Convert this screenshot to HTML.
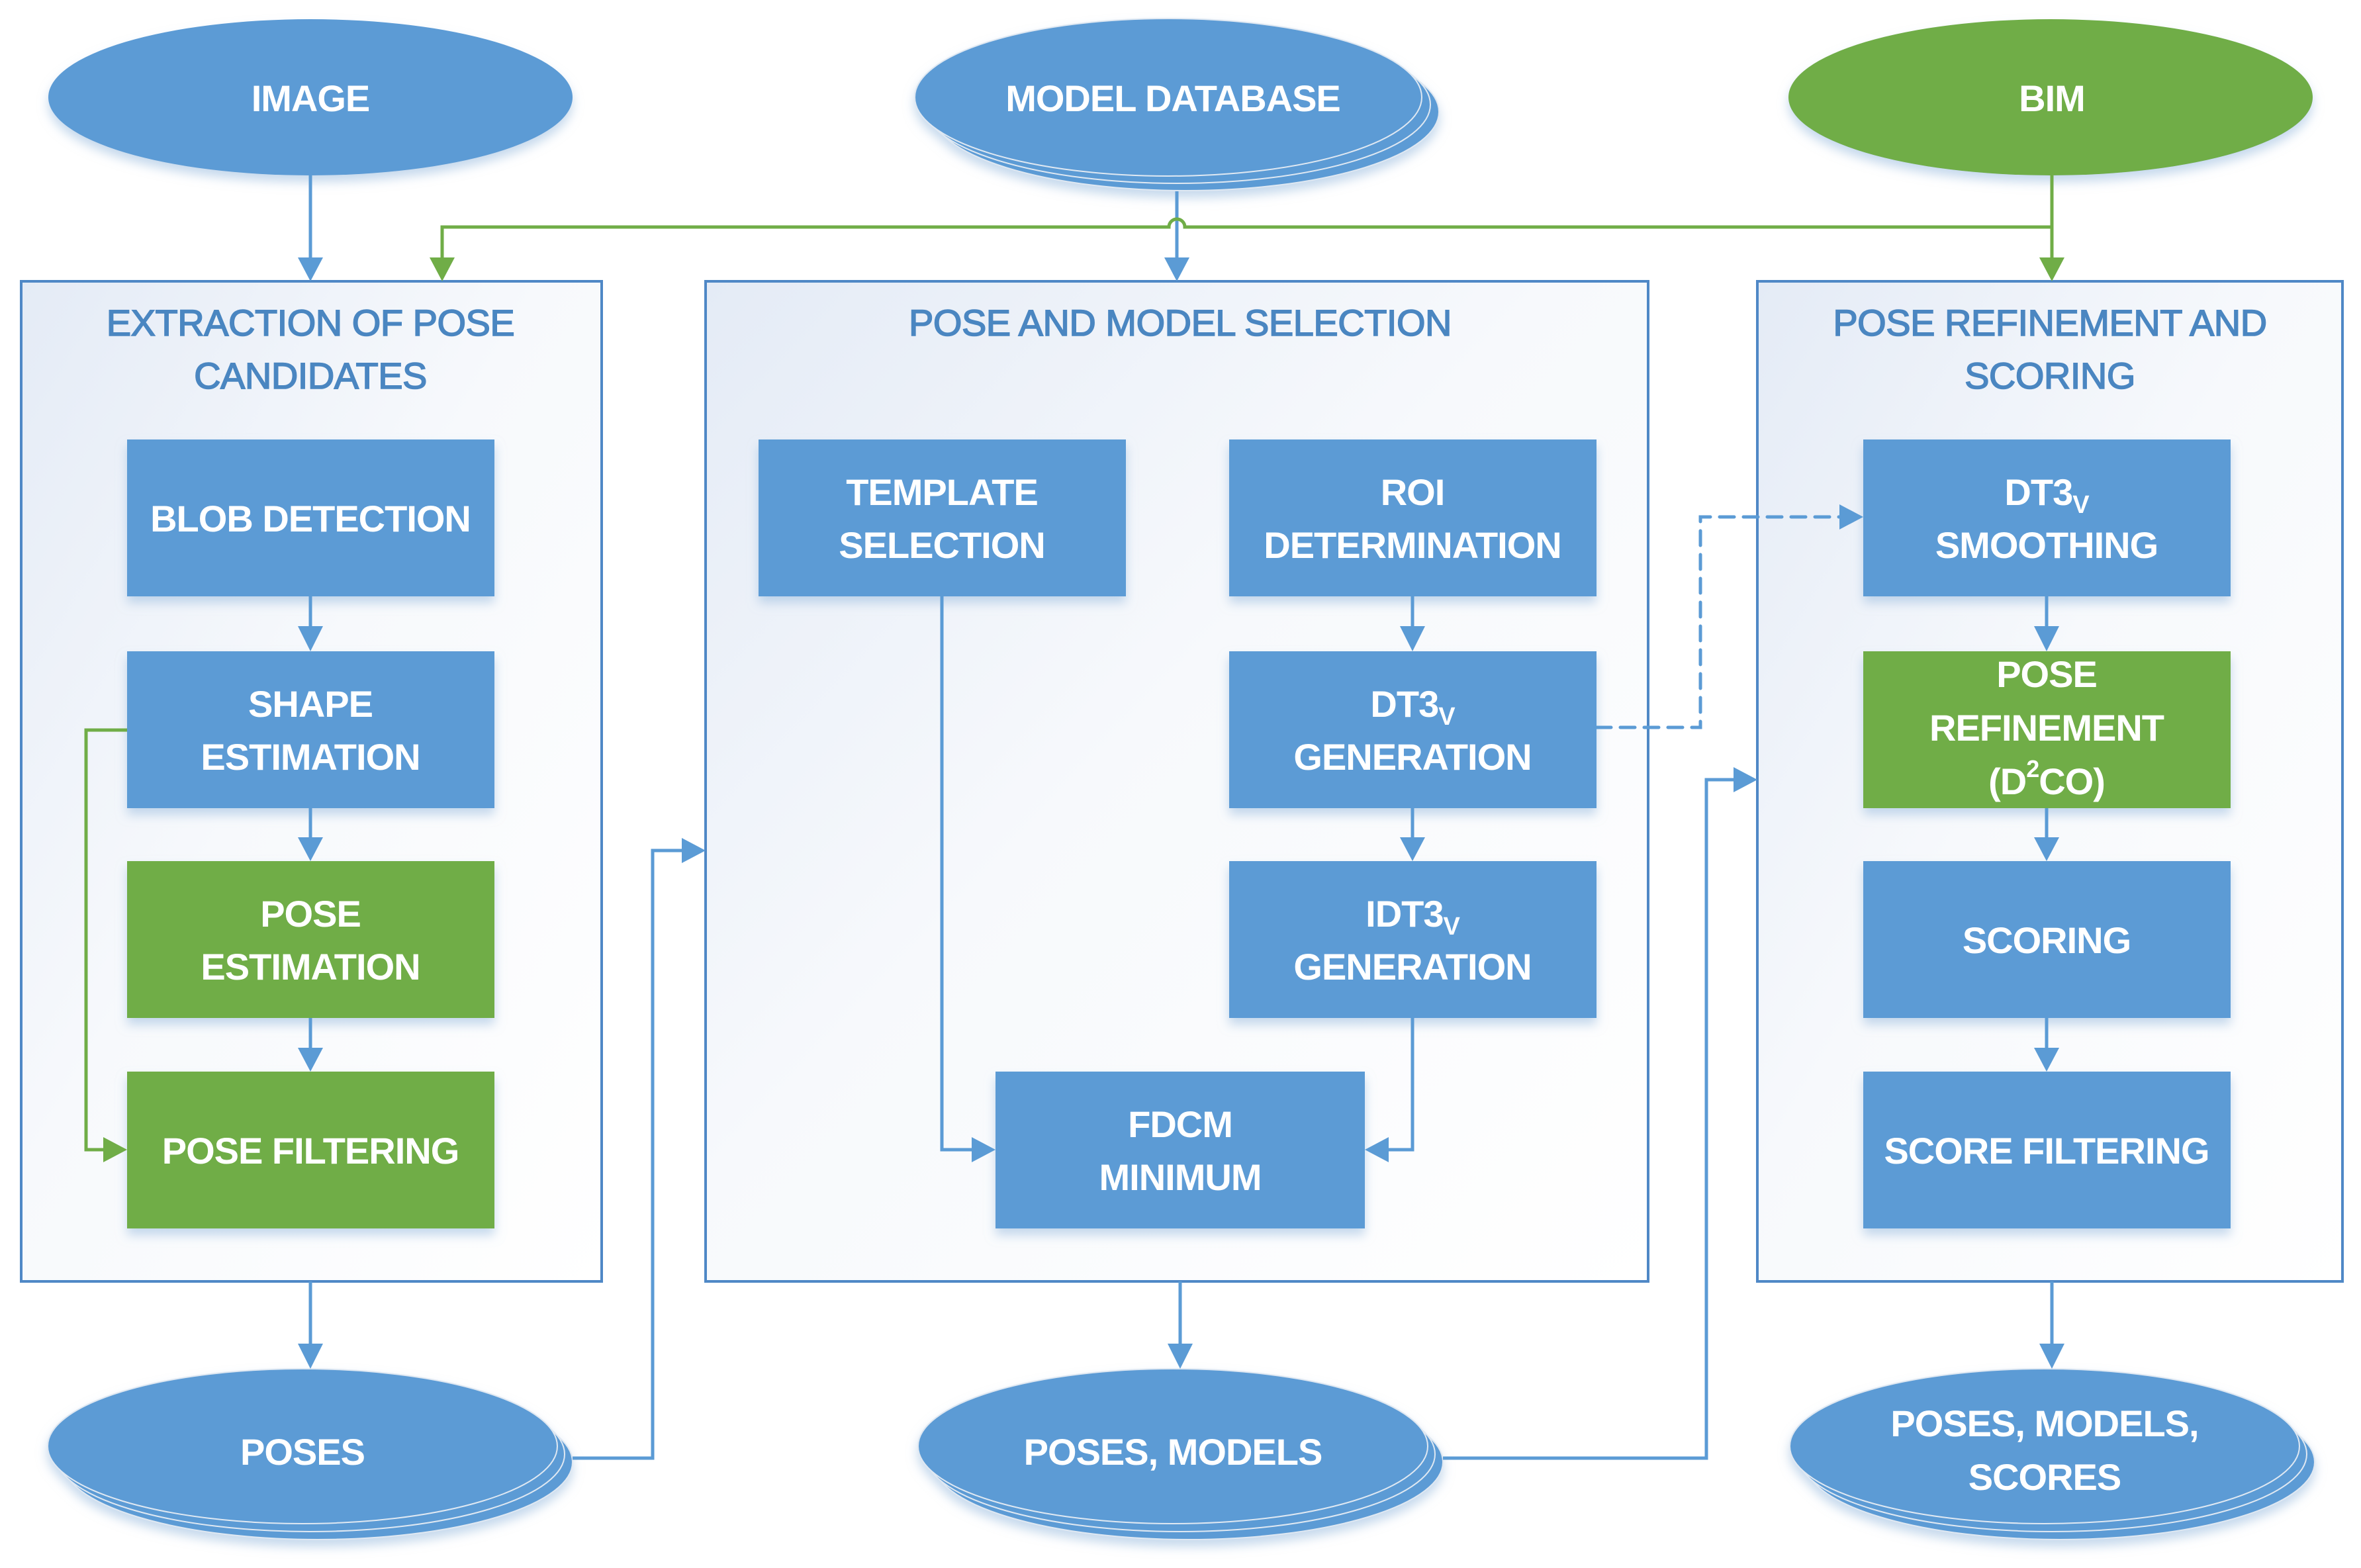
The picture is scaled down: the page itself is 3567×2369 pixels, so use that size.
<!DOCTYPE html>
<html><head><meta charset="utf-8"><style>
html,body{margin:0;padding:0;background:#fff;}
svg{display:block;}
.bt{font-family:"Liberation Sans",sans-serif;font-weight:bold;font-size:56px;fill:#fff;text-anchor:middle;letter-spacing:-1px;}
.tt{font-family:"Liberation Sans",sans-serif;font-size:56px;fill:#4a86c1;stroke:#4a86c1;stroke-width:1.6px;text-anchor:middle;letter-spacing:-0.5px;}
</style></head><body>
<svg width="3567" height="2369" viewBox="0 0 3567 2369" xmlns="http://www.w3.org/2000/svg">
<defs>
<linearGradient id="pg" x1="0" y1="0" x2="1" y2="1">
<stop offset="0" stop-color="#e4ebf6"/><stop offset="0.45" stop-color="#f7f9fc"/><stop offset="1" stop-color="#ffffff"/>
</linearGradient>
<filter id="sh" x="-10%" y="-10%" width="120%" height="130%">
<feGaussianBlur in="SourceAlpha" stdDeviation="8"/><feOffset dx="0" dy="10" result="b"/>
<feFlood flood-color="#9fbfe0" flood-opacity="0.6"/><feComposite in2="b" operator="in"/>
<feMerge><feMergeNode/><feMergeNode in="SourceGraphic"/></feMerge>
</filter>
</defs>

<rect x="32" y="425" width="877" height="1511" fill="url(#pg)" stroke="#4f88c6" stroke-width="4"/>
<rect x="1066" y="425" width="1424" height="1511" fill="url(#pg)" stroke="#4f88c6" stroke-width="4"/>
<rect x="2655" y="425" width="884" height="1511" fill="url(#pg)" stroke="#4f88c6" stroke-width="4"/>

<text class="tt" x="469" y="507">EXTRACTION OF POSE</text>
<text class="tt" x="469" y="587">CANDIDATES</text>
<text class="tt" x="1783" y="507">POSE AND MODEL SELECTION</text>
<text class="tt" x="3097" y="507">POSE REFINEMENT AND</text>
<text class="tt" x="3097" y="587">SCORING</text>

<ellipse cx="469" cy="147" rx="396" ry="118" fill="#5b9bd5" filter="url(#sh)"/>
<text class="bt" x="469" y="168">IMAGE</text>
<g filter="url(#sh)">
<ellipse cx="1791" cy="169" rx="383" ry="119" fill="#5b9bd5" stroke="#dfe8f2" stroke-width="2"/>
<ellipse cx="1778" cy="158" rx="383" ry="119" fill="#5b9bd5" stroke="#dfe8f2" stroke-width="2"/>
<ellipse cx="1765" cy="147" rx="383" ry="119" fill="#5b9bd5" stroke="#dfe8f2" stroke-width="2"/>
</g>
<text class="bt" x="1772" y="168">MODEL DATABASE</text>
<ellipse cx="3098" cy="147" rx="396" ry="118" fill="#70ad47" filter="url(#sh)"/>
<text class="bt" x="3100" y="168">BIM</text>

<g filter="url(#sh)">
<ellipse cx="480" cy="2209" rx="385" ry="117" fill="#5b9bd5" stroke="#dfe8f2" stroke-width="2"/>
<ellipse cx="468" cy="2197" rx="385" ry="117" fill="#5b9bd5" stroke="#dfe8f2" stroke-width="2"/>
<ellipse cx="457" cy="2185" rx="385" ry="117" fill="#5b9bd5" stroke="#dfe8f2" stroke-width="2"/>
</g>
<text class="bt" x="457" y="2213">POSES</text>
<g filter="url(#sh)">
<ellipse cx="1795" cy="2209" rx="385" ry="117" fill="#5b9bd5" stroke="#dfe8f2" stroke-width="2"/>
<ellipse cx="1783" cy="2197" rx="385" ry="117" fill="#5b9bd5" stroke="#dfe8f2" stroke-width="2"/>
<ellipse cx="1772" cy="2185" rx="385" ry="117" fill="#5b9bd5" stroke="#dfe8f2" stroke-width="2"/>
</g>
<text class="bt" x="1772" y="2213">POSES, MODELS</text>
<g filter="url(#sh)">
<ellipse cx="3112" cy="2209" rx="385" ry="117" fill="#5b9bd5" stroke="#dfe8f2" stroke-width="2"/>
<ellipse cx="3100" cy="2197" rx="385" ry="117" fill="#5b9bd5" stroke="#dfe8f2" stroke-width="2"/>
<ellipse cx="3089" cy="2185" rx="385" ry="117" fill="#5b9bd5" stroke="#dfe8f2" stroke-width="2"/>
</g>
<text class="bt" x="3089" y="2170">POSES, MODELS,</text>
<text class="bt" x="3089" y="2251">SCORES</text>

<g filter="url(#sh)">
<rect x="192" y="664" width="555" height="237" fill="#5b9bd5"/>
<rect x="192" y="984" width="555" height="237" fill="#5b9bd5"/>
<rect x="192" y="1301" width="555" height="237" fill="#70ad47"/>
<rect x="192" y="1619" width="555" height="237" fill="#70ad47"/>
<rect x="1146" y="664" width="555" height="237" fill="#5b9bd5"/>
<rect x="1857" y="664" width="555" height="237" fill="#5b9bd5"/>
<rect x="1857" y="984" width="555" height="237" fill="#5b9bd5"/>
<rect x="1857" y="1301" width="555" height="237" fill="#5b9bd5"/>
<rect x="1504" y="1619" width="558" height="237" fill="#5b9bd5"/>
<rect x="2815" y="664" width="555" height="237" fill="#5b9bd5"/>
<rect x="2815" y="984" width="555" height="237" fill="#70ad47"/>
<rect x="2815" y="1301" width="555" height="237" fill="#5b9bd5"/>
<rect x="2815" y="1619" width="555" height="237" fill="#5b9bd5"/>
</g>

<text class="bt" x="469" y="803">BLOB DETECTION</text>
<text class="bt" x="469" y="1083">SHAPE</text><text class="bt" x="469" y="1163">ESTIMATION</text>
<text class="bt" x="469" y="1400">POSE</text><text class="bt" x="469" y="1480">ESTIMATION</text>
<text class="bt" x="469" y="1758">POSE FILTERING</text>

<text class="bt" x="1423" y="763">TEMPLATE</text><text class="bt" x="1423" y="843">SELECTION</text>
<text class="bt" x="2134" y="763">ROI</text><text class="bt" x="2134" y="843">DETERMINATION</text>
<text class="bt" x="2134" y="1083">DT3<tspan font-size="38" dy="12">V</tspan></text><text class="bt" x="2134" y="1163">GENERATION</text>
<text class="bt" x="2134" y="1400">IDT3<tspan font-size="38" dy="12">V</tspan></text><text class="bt" x="2134" y="1480">GENERATION</text>
<text class="bt" x="1783" y="1718">FDCM</text><text class="bt" x="1783" y="1798">MINIMUM</text>

<text class="bt" x="3092" y="763">DT3<tspan font-size="38" dy="12">V</tspan></text><text class="bt" x="3092" y="843">SMOOTHING</text>
<text class="bt" x="3092" y="1038">POSE</text>
<text class="bt" x="3092" y="1119">REFINEMENT</text>
<text class="bt" x="3092" y="1200">(D<tspan font-size="36" dy="-26">2</tspan><tspan dy="26">CO)</tspan></text>
<text class="bt" x="3092" y="1440">SCORING</text>
<text class="bt" x="3092" y="1758">SCORE FILTERING</text>

<g stroke="#5b9bd5" stroke-width="5" fill="none">
<line x1="469" y1="265" x2="469" y2="395"/>
<line x1="1778" y1="289" x2="1778" y2="395"/>
<line x1="469" y1="901" x2="469" y2="950"/>
<line x1="469" y1="1221" x2="469" y2="1270"/>
<line x1="469" y1="1538" x2="469" y2="1588"/>
<polyline points="1423,901 1423,1737 1475,1737"/>
<line x1="2134" y1="901" x2="2134" y2="950"/>
<line x1="2134" y1="1221" x2="2134" y2="1270"/>
<polyline points="2134,1538 2134,1737 2092,1737"/>
<line x1="3092" y1="901" x2="3092" y2="950"/>
<line x1="3092" y1="1221" x2="3092" y2="1270"/>
<line x1="3092" y1="1538" x2="3092" y2="1588"/>
<line x1="469" y1="1936" x2="469" y2="2035"/>
<line x1="1783" y1="1936" x2="1783" y2="2035"/>
<line x1="3100" y1="1936" x2="3100" y2="2035"/>
<polyline points="865,2203 986,2203 986,1285 1036,1285"/>
<polyline points="2180,2203 2578,2203 2578,1178 2625,1178"/>
<polyline points="2412,1099 2569,1099 2569,781 2785,781" stroke-dasharray="22 14" stroke-linecap="round"/>
</g>
<g fill="#5b9bd5">
<polygon points="450,389 488,389 469,425"/>
<polygon points="1759,389 1797,389 1778,425"/>
<polygon points="450,946 488,946 469,984"/>
<polygon points="450,1265 488,1265 469,1301"/>
<polygon points="450,1583 488,1583 469,1619"/>
<polygon points="1468,1718 1468,1756 1504,1737"/>
<polygon points="2115,946 2153,946 2134,984"/>
<polygon points="2115,1265 2153,1265 2134,1301"/>
<polygon points="2098,1718 2098,1756 2062,1737"/>
<polygon points="3073,946 3111,946 3092,984"/>
<polygon points="3073,1265 3111,1265 3092,1301"/>
<polygon points="3073,1583 3111,1583 3092,1619"/>
<polygon points="450,2030 488,2030 469,2068"/>
<polygon points="1764,2030 1802,2030 1783,2068"/>
<polygon points="3081,2030 3119,2030 3100,2068"/>
<polygon points="1030,1266 1030,1304 1066,1285"/>
<polygon points="2619,1159 2619,1197 2655,1178"/>
<polygon points="2779,762 2779,800 2815,781"/>
</g>

<g stroke="#70ad47" stroke-width="5" fill="none">
<line x1="3100" y1="265" x2="3100" y2="395"/>
<path d="M3100,343 L1790,343 A12,12 0 0 0 1766,343 L668,343 L668,395"/>
<polyline points="192,1103 130,1103 130,1737 160,1737"/>
</g>
<g fill="#70ad47">
<polygon points="3081,389 3119,389 3100,425"/>
<polygon points="649,389 687,389 668,425"/>
<polygon points="156,1718 156,1756 192,1737"/>
</g>
</svg>
</body></html>
